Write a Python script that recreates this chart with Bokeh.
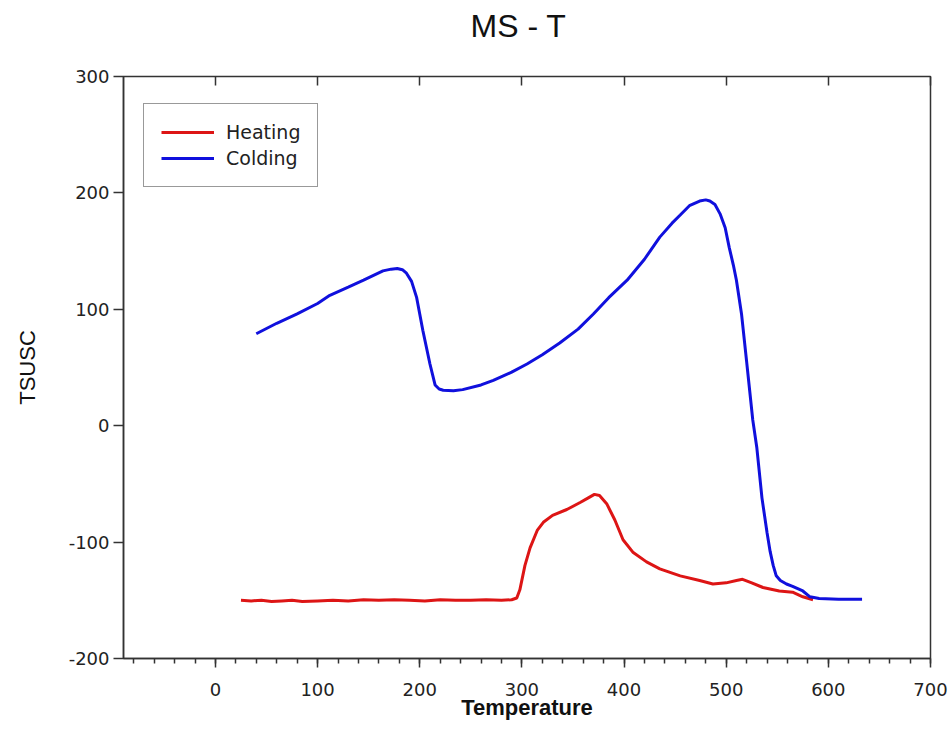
from bokeh.plotting import figure
from bokeh.models import Range1d, LinearAxis, Legend, LegendItem, FixedTicker, Title
from bokeh.embed import file_html
from bokeh.resources import INLINE

# Heating (red) curve
heat_t = [25, 35, 45, 55, 65, 75, 85, 100, 115, 130, 145, 160, 175, 190, 205, 220,
          235, 250, 265, 280, 290, 295, 298, 303, 308, 315, 321, 330, 344, 357, 365,
          371, 376, 383, 391, 399, 409, 422, 435, 455, 474, 487, 500, 510, 516, 525,
          536, 552, 565, 575, 585]
heat_v = [-150, -150.5, -150, -151, -150.5, -150, -151, -150.5, -150, -150.5, -149.5,
          -150, -149.5, -150, -150.5, -149.5, -150, -150, -149.5, -150, -149.5, -148,
          -141, -120, -105, -90, -83, -77, -72, -66, -62, -59, -60, -67, -81, -98, -109,
          -117, -123, -129, -133, -136, -135, -133, -132, -135, -139, -142, -143, -147,
          -149.5]

# Colding (blue) curve
cold_t = [40, 60, 80, 100, 112, 130, 145, 164, 172, 178, 183, 187, 192, 197, 203, 210,
          215, 219, 223, 233, 242, 260, 272, 290, 305, 320, 337, 355, 370, 385, 403, 420,
          435, 447, 455, 464, 474, 480, 484, 489, 494, 499, 503, 507, 510, 515, 520, 523,
          526, 530, 535, 540, 543, 546, 549, 553, 559, 565, 570, 575, 582, 591, 610, 633]
cold_v = [79, 88, 96, 105, 112, 119, 125, 133, 134.5, 135, 134, 131, 124, 110, 82, 53,
          35, 31.5, 30.5, 30, 31, 35, 39, 46, 53, 61, 71, 83, 96, 110, 125, 143, 162,
          174, 181, 189, 193, 194, 193, 190, 182, 170, 153, 138, 125, 96, 55, 30, 5,
          -19, -62, -92, -108, -120, -129, -133, -136, -138, -140, -142, -147, -148.5,
          -149, -149]

x_major = [0, 100, 200, 300, 400, 500, 600, 700]
x_minor = list(range(-80, 701, 20))
y_major = [-200, -100, 0, 100, 200, 300]
y_labels = {v: str(v) for v in y_major}
title_text = "MS - T"

AX = "#333333"
TICKFONT = "DejaVu Sans"

p = figure(width=951, height=749, output_backend="svg", toolbar_location=None,
           x_range=Range1d(-90, 700), y_range=Range1d(-200, 300),
           min_border_left=123, min_border_right=21, min_border_top=76,
           min_border_bottom=91, x_axis_location=None, y_axis_location=None)
p.grid.visible = False
p.outline_line_color = AX
p.outline_line_width = 1.5
p.background_fill_color = "white"
p.border_fill_color = "white"

xb = LinearAxis(ticker=FixedTicker(ticks=x_major, minor_ticks=x_minor))
xb.axis_label = "Temperature"
xb.axis_label_text_font = "Liberation Sans"
xb.axis_label_text_font_style = "bold"
xb.axis_label_text_font_size = "22px"
xb.axis_label_text_color = "#111111"
xb.axis_label_standoff = -4
xb.major_label_text_font = TICKFONT
xb.major_label_text_font_size = "18px"
xb.major_label_text_color = "#222222"
xb.major_label_standoff = 15
xb.major_tick_out = 9
xb.major_tick_in = 0
xb.minor_tick_out = 5
xb.minor_tick_in = 0
xb.axis_line_color = AX
xb.major_tick_line_color = AX
xb.minor_tick_line_color = AX
xb.axis_line_width = 1.5
xb.major_tick_line_width = 1.5
xb.minor_tick_line_width = 1.5
p.add_layout(xb, "below")

xt = LinearAxis(ticker=FixedTicker(ticks=x_major, minor_ticks=[]))
xt.major_tick_in = 9
xt.major_tick_out = 0
xt.major_label_text_font_size = "0px"
xt.major_label_text_color = None
xt.major_label_standoff = 0
xt.axis_line_color = AX
xt.major_tick_line_color = AX
xt.major_tick_line_width = 1.5
xt.minor_tick_line_color = None
p.add_layout(xt, "above")

yl = LinearAxis(ticker=FixedTicker(ticks=y_major, minor_ticks=[]))
yl.axis_label = "TSUSC"
yl.axis_label_text_font = "Liberation Sans"
yl.axis_label_text_font_style = "normal"
yl.axis_label_text_font_size = "22px"
yl.axis_label_text_color = "#111111"
yl.axis_label_standoff = 26
yl.major_label_text_font = TICKFONT
yl.major_label_text_font_size = "18px"
yl.major_label_text_color = "#222222"
yl.major_label_overrides = y_labels
yl.major_label_standoff = 4
yl.major_tick_out = 10
yl.major_tick_in = 0
yl.minor_tick_line_color = None
yl.axis_line_color = AX
yl.major_tick_line_color = AX
yl.axis_line_width = 1.5
yl.major_tick_line_width = 1.5
p.add_layout(yl, "left")

# empty spacer panel between the top axis and the title
spacer = Title(text=" ", text_font_size="21px", standoff=0)
p.add_layout(spacer, "above")

main_title = Title(text=title_text, text_font="Liberation Sans", text_font_size="32px",
                   text_font_style="normal", text_color="#111111", align="left",
                   offset=347, vertical_align="top", standoff=12)
p.add_layout(main_title, "above")

r_heat = p.line(heat_t, heat_v, line_color="#dd1515", line_width=3)
r_cold = p.line(cold_t, cold_v, line_color="#1010dd", line_width=3)

legend = Legend(items=[LegendItem(label="Heating", renderers=[r_heat]),
                       LegendItem(label="Colding", renderers=[r_cold])],
                location=(20, 471))
legend.border_line_color = AX
legend.border_line_width = 1.5
legend.padding = 17
legend.spacing = 4
legend.label_height = 22
legend.glyph_height = 22
legend.glyph_width = 53
legend.label_standoff = 12
legend.label_text_font = TICKFONT
legend.label_text_font_size = "19px"
legend.label_text_color = "#222222"
legend.background_fill_alpha = 1.0
p.add_layout(legend, "center")

open("out.html", "w").write(file_html(p, INLINE))
